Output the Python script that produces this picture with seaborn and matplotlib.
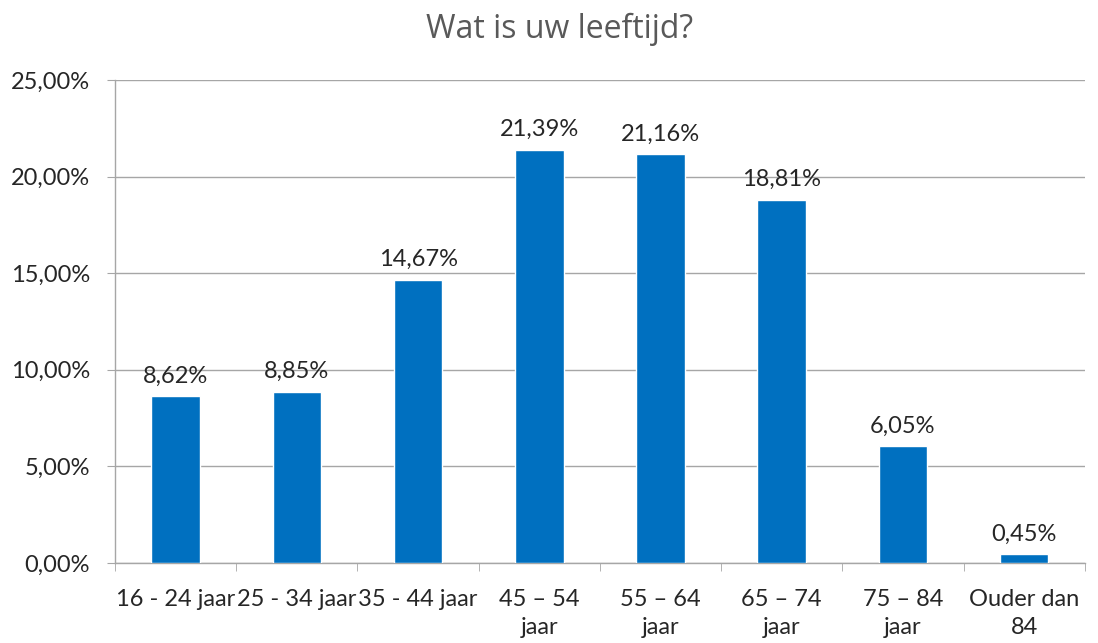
import seaborn as sns
import matplotlib.pyplot as plt
import pandas as pd
from matplotlib.ticker import FuncFormatter, FixedLocator

categories = ['16 - 24 jaar', '25 - 34 jaar', '35 - 44 jaar', '45 – 54\njaar',
              '55 – 64\njaar', '65 – 74\njaar', '75 – 84\njaar', 'Ouder dan\n84']
percentages = [8.62, 8.85, 14.67, 21.39, 21.16, 18.81, 6.05, 0.45]
y_ticks = [0, 5, 10, 15, 20, 25]

df = pd.DataFrame({'leeftijd': categories, 'pct': percentages})

sns.set_style('white')
plt.rcParams['font.family'] = ['Lato', 'DejaVu Sans']

fig = plt.figure(figsize=(10.98, 6.43), dpi=100)
ax = fig.add_axes([0.1047, 0.1244, 0.8833, 0.7512])

sns.barplot(data=df, x='leeftijd', y='pct', color='#0070C0', width=0.40,
            saturation=1, ax=ax, zorder=3)

nl = lambda v, pos: '{:.2f}%'.format(v).replace('.', ',')
ax.set_ylim(0, 25)
ax.set_xlim(-0.5, len(categories) - 0.5)
ax.set_yticks(y_ticks)
ax.yaxis.set_major_formatter(FuncFormatter(nl))
ax.grid(axis='y', color='#A6A6A6', linewidth=1, zorder=0)
for s in ['top', 'right']:
    ax.spines[s].set_visible(False)
for s in ['left', 'bottom']:
    ax.spines[s].set_color('#A6A6A6')
    ax.spines[s].set_linewidth(1)

ax.tick_params(axis='y', length=6, color='#A6A6A6', labelsize=17, pad=12, left=True)
ax.tick_params(axis='x', length=0, labelsize=17, pad=19)
ax.set_xticks(range(len(categories)))
ax.set_xticklabels(categories, linespacing=1.38, va='top')
ax.xaxis.set_minor_locator(FixedLocator([i - 0.5 for i in range(len(categories) + 1)]))
ax.tick_params(axis='x', which='minor', length=6, color='#A6A6A6', bottom=True)
ax.set_xlabel('')
ax.set_ylabel('')

for i, v in enumerate(percentages):
    ax.annotate('{:.2f}%'.format(v).replace('.', ','), (i, v), xytext=(0, 7),
                textcoords='offset points', ha='center', va='bottom', fontsize=17)

fig.text(0.51, 0.955, 'Wat is uw leeftijd?', ha='center', va='center',
         fontsize=23, color='#595959', family=['Open Sans', 'DejaVu Sans'])

fig.savefig('out.png', dpi=100)
